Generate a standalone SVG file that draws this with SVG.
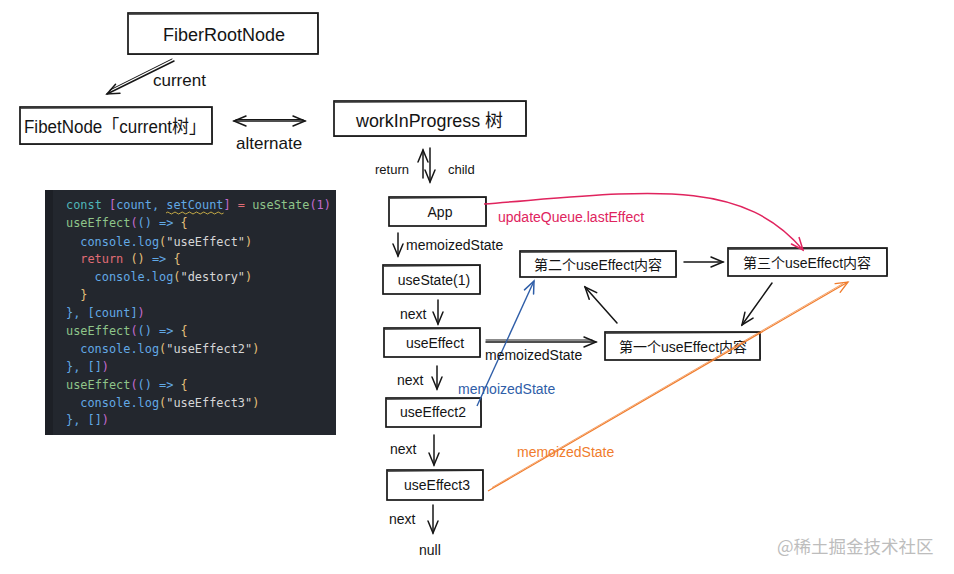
<svg xmlns="http://www.w3.org/2000/svg" width="954" height="574" viewBox="0 0 954 574">
<defs>
<style>
.box{fill:#fff;stroke:#161616;stroke-width:1.7}
.sk{fill:none;stroke:#161616;stroke-width:0.9;opacity:0.8}
.t{font-family:"Liberation Sans",Arial,sans-serif;fill:#141414}
.big{font-size:18px}
.md{font-size:14px}
.cjk{font-family:"Liberation Sans","Noto Sans CJK SC",sans-serif;font-size:14px;fill:#141414}
.ln{fill:none;stroke:#161616;stroke-width:1.5;stroke-linecap:round}
.code{font-family:"DejaVu Sans Mono","Liberation Mono",monospace;font-size:11.9px;white-space:pre}
.kw{fill:#4fb6b8}.id{fill:#62a9e6}.pk{fill:#c46bd0}.op{fill:#e06c75}.fn{fill:#8fc58a}.yl{fill:#e5c07b}.st{fill:#d6d6d6}.rt{fill:#e06c75}
</style>
<marker id="ak" viewBox="-14 -8 16 16" refX="0" refY="0" markerWidth="16" markerHeight="16" markerUnits="userSpaceOnUse" orient="auto-start-reverse">
<path d="M-12,-5 L0,0 L-12,5" fill="none" stroke="#161616" stroke-width="1.5" stroke-linecap="round"/>
</marker>
<marker id="ar" viewBox="-14 -8 16 16" refX="0" refY="0" markerWidth="16" markerHeight="16" markerUnits="userSpaceOnUse" orient="auto">
<path d="M-12,-5 L0,0 L-12,5" fill="none" stroke="#e0245e" stroke-width="1.5" stroke-linecap="round"/>
</marker>
<marker id="ab" viewBox="-14 -8 16 16" refX="0" refY="0" markerWidth="16" markerHeight="16" markerUnits="userSpaceOnUse" orient="auto">
<path d="M-12,-5 L0,0 L-12,5" fill="none" stroke="#2f5ea8" stroke-width="1.5" stroke-linecap="round"/>
</marker>
<marker id="ao" viewBox="-14 -8 16 16" refX="0" refY="0" markerWidth="16" markerHeight="16" markerUnits="userSpaceOnUse" orient="auto">
<path d="M-12,-5 L0,0 L-12,5" fill="none" stroke="#f07c2c" stroke-width="1.3" stroke-linecap="round"/>
</marker>
</defs>
<rect width="954" height="574" fill="#fff"/>

<!-- code panel -->
<g id="code">
<rect x="45" y="190" width="291" height="245" fill="#23272e"/>
<rect x="45" y="190" width="8" height="245" fill="#1d2026"/>
<text class="code" y="209"><tspan x="66" class="kw">const</tspan><tspan class="pk"> [</tspan><tspan class="id">count, setCount</tspan><tspan class="pk">]</tspan><tspan class="op"> = </tspan><tspan class="fn">useState</tspan><tspan class="pk">(1)</tspan></text>
<path d="M166,213 q1.8,-2 3.6,0 t3.6,0 t3.6,0 t3.6,0 t3.6,0 t3.6,0 t3.6,0 t3.6,0 t3.6,0 t3.6,0 t3.6,0 t3.6,0 t3.6,0 t3.6,0 t3.6,0 t3.6,0" fill="none" stroke="#d7b94a" stroke-width="0.9"/>
<text class="code" y="227"><tspan x="66" class="fn">useEffect</tspan><tspan class="pk">(</tspan><tspan class="id">() =&gt; </tspan><tspan class="yl">{</tspan></text>
<text class="code" y="245.5"><tspan x="80.3" class="id">console.log</tspan><tspan class="yl">(</tspan><tspan class="st">"useEffect"</tspan><tspan class="yl">)</tspan></text>
<text class="code" y="263"><tspan x="80.3" class="rt">return</tspan><tspan class="yl"> ()</tspan><tspan class="id"> =&gt; </tspan><tspan class="yl">{</tspan></text>
<text class="code" y="281"><tspan x="94.6" class="id">console.log</tspan><tspan class="yl">(</tspan><tspan class="st">"destory"</tspan><tspan class="yl">)</tspan></text>
<text class="code" y="299"><tspan x="80.3" class="yl">}</tspan></text>
<text class="code" y="317"><tspan x="66" class="id">}, [count]</tspan><tspan class="pk">)</tspan></text>
<text class="code" y="335"><tspan x="66" class="fn">useEffect</tspan><tspan class="pk">(</tspan><tspan class="id">() =&gt; </tspan><tspan class="yl">{</tspan></text>
<text class="code" y="353"><tspan x="80.3" class="id">console.log</tspan><tspan class="yl">(</tspan><tspan class="st">"useEffect2"</tspan><tspan class="yl">)</tspan></text>
<text class="code" y="371"><tspan x="66" class="id">}, []</tspan><tspan class="pk">)</tspan></text>
<text class="code" y="389"><tspan x="66" class="fn">useEffect</tspan><tspan class="pk">(</tspan><tspan class="id">() =&gt; </tspan><tspan class="yl">{</tspan></text>
<text class="code" y="406.5"><tspan x="80.3" class="id">console.log</tspan><tspan class="yl">(</tspan><tspan class="st">"useEffect3"</tspan><tspan class="yl">)</tspan></text>
<text class="code" y="424"><tspan x="66" class="id">}, []</tspan><tspan class="pk">)</tspan></text>
</g>

<!-- nodes -->
<g id="fiberRootNode">
<rect class="box" x="128" y="13" width="190" height="41"/>
<path class="sk" d="M129,14.5 L317,13.5 M317.5,14 L318.5,53 M127.5,54.5 L318,53.5"/>
<text class="t big" x="224" y="41" text-anchor="middle">FiberRootNode</text>
</g>
<g id="fibetNode">
<rect class="box" x="20" y="107" width="192" height="37"/>
<path class="sk" d="M21,108.5 L211,107.5 M211.5,108 L212.5,143 M19.5,144.5 L212,143.5"/>
<text class="t big" x="24" y="133" textLength="182" lengthAdjust="spacingAndGlyphs" style="font-family:'Liberation Sans','Noto Sans CJK SC',sans-serif">FibetNode「current树」</text>
</g>
<g id="workInProgress">
<rect class="box" x="334" y="101" width="192" height="35"/>
<path class="sk" d="M335,102.5 L525,101.5 M525.5,102 L526.5,135 M333.5,136.5 L526,135.5"/>
<text class="t big" x="356" y="127" textLength="147" lengthAdjust="spacingAndGlyphs" style="font-family:'Liberation Sans','Noto Sans CJK SC',sans-serif">workInProgress 树</text>
</g>
<g id="app">
<rect class="box" x="389" y="197" width="97" height="29"/>
<path class="sk" d="M390,198.5 L485,197.5 M485.5,198 L486.5,225"/>
<text class="t md" x="440" y="217" text-anchor="middle">App</text>
</g>
<g id="useState">
<rect class="box" x="383" y="265" width="97" height="29"/>
<path class="sk" d="M384,266.5 L479,265.5 M479.5,266 L480.5,293"/>
<text class="t md" x="434" y="285" text-anchor="middle">useState(1)</text>
</g>
<g id="useEffect">
<rect class="box" x="384" y="328" width="96" height="29"/>
<path class="sk" d="M385,329.5 L479,328.5 M479.5,329 L480.5,356"/>
<text class="t md" x="435" y="348" text-anchor="middle">useEffect</text>
</g>
<g id="useEffect2">
<rect class="box" x="386" y="398" width="95" height="29"/>
<path class="sk" d="M387,399.5 L480,398.5 M480.5,399 L481.5,426"/>
<text class="t md" x="433" y="417" text-anchor="middle">useEffect2</text>
</g>
<g id="useEffect3">
<rect class="box" x="387" y="470" width="96" height="30"/>
<path class="sk" d="M388,471.5 L482,470.5 M482.5,471 L483.5,499"/>
<text class="t md" x="437" y="490" text-anchor="middle">useEffect3</text>
</g>
<g id="effect2">
<rect class="box" x="520" y="251" width="156" height="26"/>
<path class="sk" d="M521,252.5 L675,251.5 M675.5,252 L676.5,276"/>
<text class="cjk" x="598" y="270" text-anchor="middle">第二个useEffect内容</text>
</g>
<g id="effect3">
<rect class="box" x="728" y="248" width="159" height="28"/>
<path class="sk" d="M729,249.5 L886,248.5 M886.5,249 L887.5,275"/>
<text class="cjk" x="807" y="268" text-anchor="middle">第三个useEffect内容</text>
</g>
<g id="effect1">
<rect class="box" x="605" y="332" width="155" height="28"/>
<path class="sk" d="M606,333.5 L759,332.5 M759.5,333 L760.5,359"/>
<text class="cjk" x="683" y="352" text-anchor="middle">第一个useEffect内容</text>
</g>

<!-- connectors -->
<g id="connectors">
<line class="ln" x1="174" y1="61" x2="107" y2="94" marker-end="url(#ak)"/>
<line class="ln" x1="172" y1="59" x2="110" y2="90" style="stroke-width:1"/>
<line class="ln" x1="234" y1="121" x2="305" y2="121" marker-start="url(#ak)" marker-end="url(#ak)"/>
<line class="ln" x1="236" y1="119.5" x2="303" y2="119.5" style="stroke-width:1"/>
<line class="ln" x1="423" y1="178" x2="423" y2="150" marker-end="url(#ak)"/>
<line class="ln" x1="430" y1="148" x2="430" y2="182" marker-end="url(#ak)"/>
<line class="ln" x1="398" y1="233" x2="398" y2="256" marker-end="url(#ak)"/>
<line class="ln" x1="438" y1="300" x2="438" y2="324" marker-end="url(#ak)"/>
<line class="ln" x1="437" y1="366" x2="437" y2="389" marker-end="url(#ak)"/>
<line class="ln" x1="434" y1="435" x2="434" y2="465" marker-end="url(#ak)"/>
<line class="ln" x1="433" y1="505" x2="433" y2="533" marker-end="url(#ak)"/>
<line class="ln" x1="486" y1="342" x2="596" y2="342" marker-end="url(#ak)"/>
<line class="ln" x1="486" y1="340" x2="592" y2="340" style="stroke-width:1"/>
<line class="ln" x1="684" y1="262" x2="723" y2="262" marker-end="url(#ak)"/>
<line class="ln" x1="772" y1="283" x2="742" y2="325" marker-end="url(#ak)"/>
<line class="ln" x1="617" y1="323" x2="585" y2="287" marker-end="url(#ak)"/>
<path d="M484,204 C640,192 740,175 803,250" fill="none" stroke="#e0245e" stroke-width="1.5" marker-end="url(#ar)"/>
<line x1="477" y1="406" x2="534" y2="281" stroke="#2f5ea8" stroke-width="1.4" marker-end="url(#ab)"/>
<line x1="488" y1="491" x2="848" y2="282" stroke="#f07c2c" stroke-width="1.2" marker-end="url(#ao)"/>
<line x1="492" y1="487.5" x2="843" y2="283.5" stroke="#f07c2c" stroke-width="0.7"/>
</g>

<!-- labels -->
<g id="labels">
<text class="t" x="153" y="86" style="font-size:17px">current</text>
<text class="t" x="236" y="149" style="font-size:17px">alternate</text>
<text class="t" x="375" y="174" style="font-size:13px">return</text>
<text class="t" x="448" y="174" style="font-size:13px">child</text>
<text class="t md" x="406" y="250">memoizedState</text>
<text class="t md" x="400" y="319">next</text>
<text class="t md" x="397" y="385">next</text>
<text class="t md" x="390" y="454">next</text>
<text class="t md" x="389" y="524">next</text>
<text class="t md" x="419" y="555">null</text>
<text class="t md" x="485" y="360">memoizedState</text>
<text class="md" x="498" y="222" style="font-family:'Liberation Sans',Arial,sans-serif;fill:#e0245e">updateQueue.lastEffect</text>
<text class="md" x="458" y="394" style="font-family:'Liberation Sans',Arial,sans-serif;fill:#2f5ea8">memoizedState</text>
<text class="md" x="517" y="457" style="font-family:'Liberation Sans',Arial,sans-serif;fill:#f07c2c">memoizedState</text>
<text x="777" y="553" style="font-family:'Noto Sans CJK SC',sans-serif;font-size:17.5px;fill:#bdbdbd">@稀土掘金技术社区</text>
</g>
</svg>
